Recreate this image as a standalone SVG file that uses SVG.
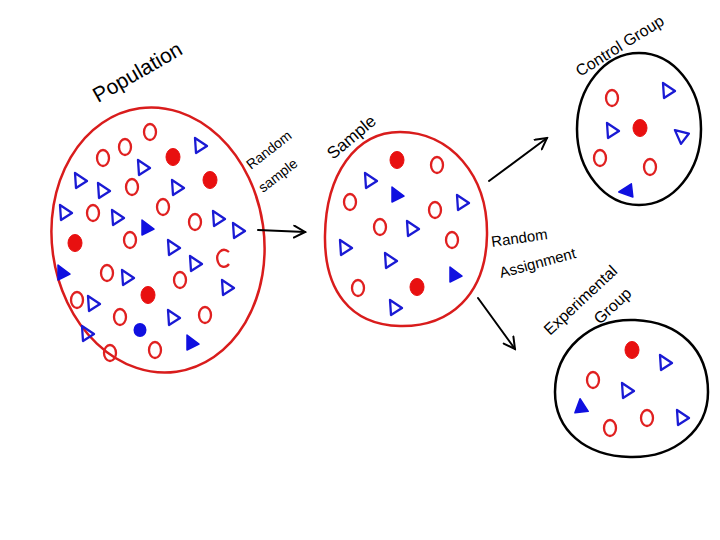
<svg xmlns="http://www.w3.org/2000/svg" xmlns:xlink="http://www.w3.org/1999/xlink" width="720" height="540" viewBox="0 0 720 540">
<style>
.bd{fill:none;stroke-width:2.5;stroke-linecap:round;stroke-linejoin:round}
.red{stroke:#d91c1c}
.blk{stroke:#000}
.lbl{font-family:"Liberation Sans","DejaVu Sans",sans-serif;fill:#000}
.ro{fill:none;stroke:#e02020;stroke-width:2.3}
.rf{fill:#e81010;stroke:#e81010;stroke-width:1}
.bo{fill:none;stroke:#1a1ad4;stroke-width:2.3;stroke-linejoin:round}
.bf{fill:#1010e0;stroke:#1010e0;stroke-width:1.5;stroke-linejoin:round}
.ar{fill:none;stroke:#000;stroke-width:2;stroke-linecap:round}
</style>
<defs>
<ellipse id="ro" class="ro" cx="0" cy="0" rx="6" ry="8"/>
<ellipse id="rf" class="rf" cx="0" cy="0" rx="7" ry="8.5"/>
<path id="bo" class="bo" d="M-5,-7 L7,1 L-4,8 Z"/>
<path id="bf" class="bf" d="M-5,-8 L7,1 L-5,7 Z"/>
<marker id="ah" viewBox="0 0 14 14" refX="12" refY="7" markerWidth="14" markerHeight="14" markerUnits="userSpaceOnUse" orient="auto">
<path d="M1,1 L12,7 L1,13" fill="none" stroke="#000" stroke-width="2" stroke-linecap="round"/>
</marker>
</defs>
<rect width="720" height="540" fill="#fff"/>

<g id="population">
<text class="lbl" font-size="21" transform="translate(98,103) rotate(-30)">Population</text>
<ellipse class="bd red" cx="158" cy="240" rx="106" ry="133" transform="rotate(-8 158 240)"/>
<use href="#ro" x="150" y="132"/><use href="#ro" x="125" y="147"/><use href="#ro" x="103" y="158"/>
<use href="#ro" x="132" y="187"/><use href="#ro" x="163" y="207"/><use href="#ro" x="93" y="213"/>
<use href="#ro" x="195" y="222"/><use href="#ro" x="130" y="240"/>
<path class="ro" d="M229,252 C222,246 215,254 218,262 C220,268 226,268 229,264"/>
<use href="#ro" x="107" y="273"/><use href="#ro" x="180" y="280"/><use href="#ro" x="77" y="300"/>
<use href="#ro" x="120" y="317"/><use href="#ro" x="205" y="315"/><use href="#ro" x="110" y="353"/>
<use href="#ro" x="155" y="350"/>
<use href="#rf" x="173" y="157"/><use href="#rf" x="210" y="180"/><use href="#rf" x="75" y="243"/><use href="#rf" x="148" y="295"/>
<use href="#bo" x="200" y="145"/><use href="#bo" x="143" y="167"/><use href="#bo" x="80" y="180"/>
<use href="#bo" x="103" y="190"/><use href="#bo" x="177" y="187"/><use href="#bo" x="65" y="212"/>
<use href="#bo" x="117" y="217"/><use href="#bo" x="218" y="218"/><use href="#bo" x="238" y="230"/>
<use href="#bo" x="173" y="247"/><use href="#bo" x="195" y="263"/><use href="#bo" x="127" y="277"/>
<use href="#bo" x="227" y="287"/><use href="#bo" x="93" y="303"/><use href="#bo" x="173" y="317"/>
<use href="#bo" x="87" y="333"/>
<use href="#bf" x="147" y="228"/><use href="#bf" x="63" y="273"/><use href="#bf" x="192" y="343"/>
<ellipse cx="140" cy="330" rx="6.5" ry="7" fill="#1010e0"/>
</g>

<g id="sample">
<text class="lbl" font-size="17" transform="translate(333,160) rotate(-40)">Sample</text>
<path class="bd red" d="M400,132 C450,132 488,175 487,235 C486,295 450,327 400,326 C350,325 324,290 325,235 C326,175 355,132 400,132 Z"/>
<use href="#rf" x="397" y="160"/><use href="#rf" x="417" y="287"/>
<use href="#ro" x="437" y="165"/><use href="#ro" x="350" y="202"/><use href="#ro" x="435" y="210"/>
<use href="#ro" x="380" y="227"/><use href="#ro" x="452" y="240"/><use href="#ro" x="358" y="288"/>
<use href="#bo" x="370" y="180"/><use href="#bo" x="462" y="202"/><use href="#bo" x="412" y="228"/>
<use href="#bo" x="345" y="247"/><use href="#bo" x="390" y="260"/><use href="#bo" x="395" y="307"/>
<use href="#bf" x="397" y="195"/><use href="#bf" x="455" y="275"/>
</g>

<g id="control-group">
<text class="lbl" font-size="16" transform="translate(580,77) rotate(-32)">Control Group</text>
<ellipse class="bd blk" cx="639" cy="129" rx="62" ry="76"/>
<use href="#ro" x="612" y="98"/><use href="#ro" x="600" y="158"/><use href="#ro" x="650" y="167"/>
<use href="#rf" x="640" y="128"/>
<use href="#bo" x="668" y="90"/><use href="#bo" x="612" y="130"/><use href="#bo" x="682" y="135" transform="rotate(-20 682 135)"/>
<use href="#bf" x="628" y="190" transform="rotate(-70 628 190)"/>
</g>

<g id="experimental-group">
<text class="lbl" font-size="16" transform="translate(550,336) rotate(-43)">Experimental</text>
<text class="lbl" font-size="16" transform="translate(600,325) rotate(-43)">Group</text>
<path class="bd blk" d="M635,320 C680,322 708,350 708,392 C708,430 675,458 630,457 C585,456 555,430 555,392 C555,350 590,318 635,320 Z"/>
<use href="#rf" x="632" y="350"/>
<use href="#ro" x="593" y="380"/><use href="#ro" x="610" y="428"/><use href="#ro" x="647" y="418"/>
<use href="#bo" x="665" y="362"/><use href="#bo" x="627" y="390"/><use href="#bo" x="682" y="417"/>
<use href="#bf" x="582" y="408" transform="rotate(20 582 408)"/>
</g>

<g id="connectors">
<text class="lbl" font-size="14" transform="translate(251,170) rotate(-38)">Random</text>
<text class="lbl" font-size="14" transform="translate(263,193) rotate(-38)">sample</text>
<line class="ar" x1="258" y1="230" x2="305" y2="232" marker-end="url(#ah)"/>
<line class="ar" x1="489" y1="181" x2="547" y2="138" marker-end="url(#ah)"/>
<text class="lbl" font-size="15" transform="translate(492,247) rotate(-8)">Random</text>
<text class="lbl" font-size="15" transform="translate(501,278) rotate(-15)">Assignment</text>
<line class="ar" x1="478" y1="298" x2="515" y2="349" marker-end="url(#ah)"/>
</g>
</svg>
